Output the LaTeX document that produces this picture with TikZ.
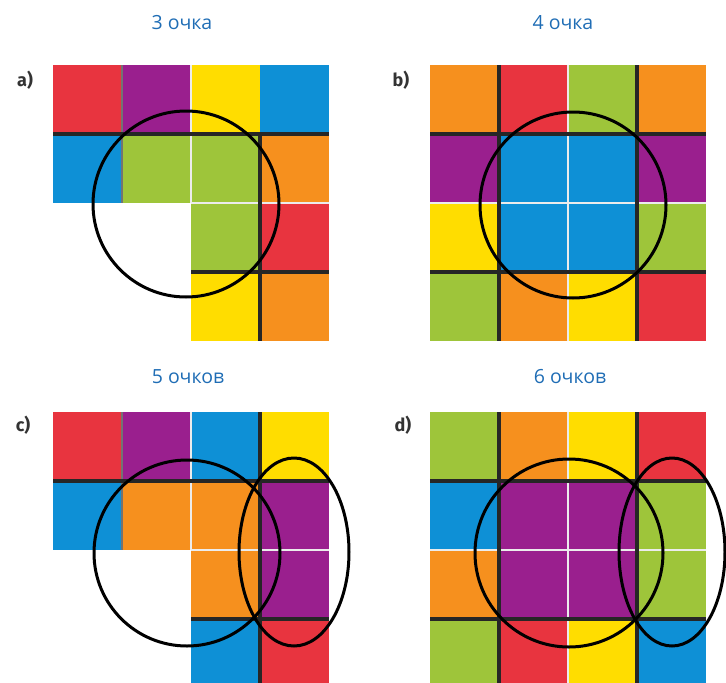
\documentclass[tikz,border=0pt]{standalone}
\usepackage{fontspec}
\setmainfont{Open Sans}
\newfontfamily\tagfont{Fira Sans}
\definecolor{tred}{HTML}{E8343F}
\definecolor{tpurple}{HTML}{9A1F8E}
\definecolor{tyellow}{HTML}{FFDD00}
\definecolor{tblue}{HTML}{0E90D6}
\definecolor{tgreen}{HTML}{9EC53A}
\definecolor{torange}{HTML}{F6901E}
\definecolor{ttitle}{HTML}{1F6DB5}

\begin{document}
\begin{tikzpicture}[x=1pt,y=-1pt,
    title/.style={text=ttitle,font=\fontsize{19.5}{22}\selectfont},
    tag/.style={text=black!80,font=\tagfont\bfseries\fontsize{18}{20}\selectfont},
    seam/.style={line width=3.5pt,black!85},
    shade/.style={line width=2pt,black!55},
    gap/.style={line width=1.6pt,white!85!gray},
    ring/.style={line width=3pt,black}]
\useasboundingbox (0,0) rectangle (726,683);

\node[title] (ta) at (182,23) {3 очка};
\node[title] (tb) at (563,23) {4 очка};
\node[title] (tc) at (188,377) {5 очков};
\node[title] (td) at (570,377) {6 очков};

\node[tag] (la) at (25,80) {a)};
\node[tag] (lb) at (401,80) {b)};
\node[tag] (lc) at (23,425) {c)};
\node[tag] (ld) at (403,425) {d)};

% a)
\begin{scope}[shift={(53,65)}]
\foreach \row [count=\j from 0] in {{tred,tpurple,tyellow,tblue},{tblue,tgreen,tgreen,torange},{white,white,tgreen,tred},{white,white,tyellow,torange}}
  \foreach \c [count=\i from 0] in \row
    \fill[\c] (\i*69,\j*69) rectangle ++(69,69);
\draw[gap] (138,0) -- (138,138);
\draw[gap] (138,138) -- (276,138);
\draw[shade] (69,0) -- (69,138);
\draw[seam] (0,69) -- (276,69);
\draw[seam] (207,69) -- (207,276);
\draw[seam] (138,207) -- (276,207);
\draw[ring] (133,139) circle[radius=93];
\end{scope}

% b)
\begin{scope}[shift={(430,65)}]
\foreach \row [count=\j from 0] in {{torange,tred,tgreen,torange},{tpurple,tblue,tblue,tpurple},{tyellow,tblue,tblue,tgreen},{tgreen,torange,tyellow,tred}}
  \foreach \c [count=\i from 0] in \row
    \fill[\c] (\i*69,\j*69) rectangle ++(69,69);
\draw[gap] (138,0) -- (138,276);
\draw[gap] (0,138) -- (276,138);
\draw[seam] (69,0) -- (69,276);
\draw[seam] (207,0) -- (207,276);
\draw[seam] (0,69) -- (276,69);
\draw[seam] (0,207) -- (276,207);
\draw[ring] (143,140) circle[radius=93];
\end{scope}

% c)
\begin{scope}[shift={(53,412)}]
\foreach \row [count=\j from 0] in {{tred,tpurple,tblue,tyellow},{tblue,torange,torange,tpurple},{white,white,torange,tpurple},{white,white,tblue,tred}}
  \foreach \c [count=\i from 0] in \row
    \fill[\c] (\i*69,\j*69) rectangle ++(69,69);
\draw[gap] (138,0) -- (138,138);
\draw[gap] (138,138) -- (276,138);
\draw[shade] (69,0) -- (69,138);
\draw[seam] (0,69) -- (276,69);
\draw[seam] (207,0) -- (207,276);
\draw[seam] (138,207) -- (276,207);
\draw[ring] (134,141) circle[radius=93];
\draw[ring] (241,140) ellipse[x radius=55,y radius=94];
\end{scope}

% d)
\begin{scope}[shift={(430,412)}]
\foreach \row [count=\j from 0] in {{tgreen,torange,tyellow,tred},{tblue,tpurple,tpurple,tgreen},{torange,tpurple,tpurple,tgreen},{tgreen,tred,tyellow,tblue}}
  \foreach \c [count=\i from 0] in \row
    \fill[\c] (\i*69,\j*69) rectangle ++(69,69);
\draw[gap] (138,0) -- (138,276);
\draw[gap] (0,138) -- (276,138);
\draw[seam] (69,0) -- (69,276);
\draw[seam] (207,0) -- (207,276);
\draw[seam] (0,69) -- (276,69);
\draw[seam] (0,207) -- (276,207);
\draw[ring] (139,141) circle[radius=94];
\draw[ring] (242,140) ellipse[x radius=53,y radius=94];
\end{scope}
\end{tikzpicture}
\end{document}
